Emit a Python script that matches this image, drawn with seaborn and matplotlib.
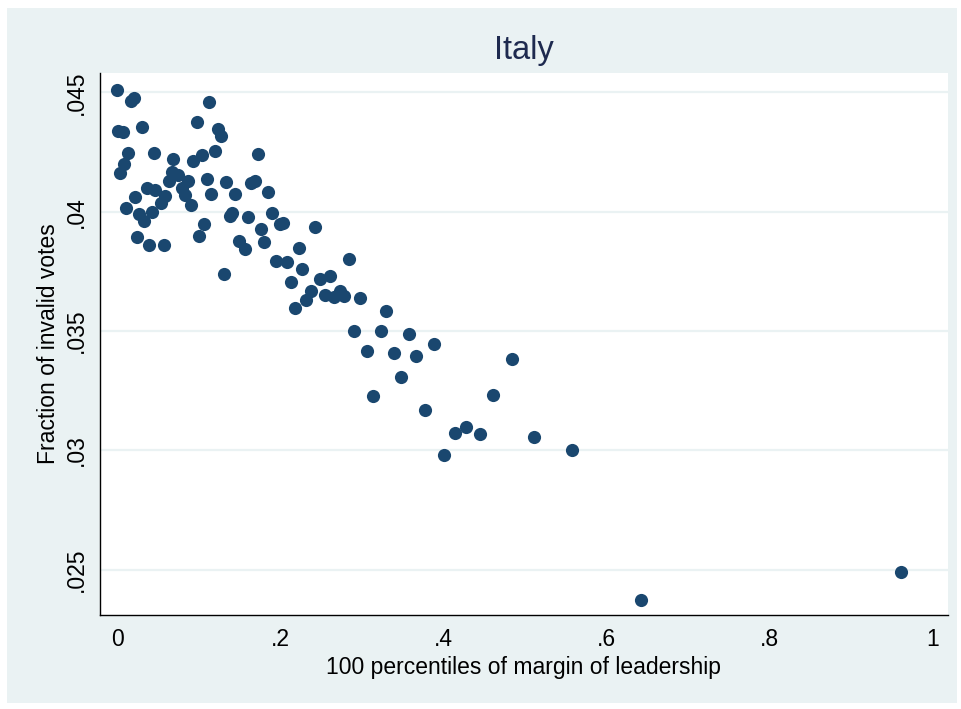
import matplotlib
matplotlib.use("Agg")
import matplotlib.pyplot as plt
from matplotlib.patches import Rectangle
import pandas as pd
import seaborn as sns

# Percentile of margin of leadership (x) and fraction of invalid votes (y)
margin_pct = [
    0.0000, 0.0004, 0.0065, 0.0038, 0.0085, 0.0134, 0.0109, 0.0167, 0.0200, 0.0216,
    0.0244, 0.0269, 0.0298, 0.0330, 0.0359, 0.0384, 0.0430, 0.0455, 0.0467, 0.0529,
    0.0571, 0.0584, 0.0627, 0.0666, 0.0685, 0.0749, 0.0788, 0.0829, 0.0869, 0.0900,
    0.0933, 0.0972, 0.1004, 0.1035, 0.1068, 0.1095, 0.1123, 0.1148, 0.1191, 0.1234,
    0.1270, 0.1307, 0.1335, 0.1375, 0.1405, 0.1446, 0.1491, 0.1559, 0.1601, 0.1638,
    0.1687, 0.1720, 0.1761, 0.1801, 0.1850, 0.1898, 0.1941, 0.1988, 0.2034, 0.2082,
    0.2129, 0.2178, 0.2223, 0.2267, 0.2316, 0.2378, 0.2427, 0.2484, 0.2549, 0.2607,
    0.2660, 0.2726, 0.2782, 0.2844, 0.2905, 0.2981, 0.3057, 0.3138, 0.3229, 0.3297,
    0.3388, 0.3478, 0.3576, 0.3665, 0.3772, 0.3882, 0.4005, 0.4140, 0.4278, 0.4443,
    0.4609, 0.4839, 0.5112, 0.5571, 0.6417, 0.9609,
]
invalid_frac = [
    0.04511, 0.04338, 0.04333, 0.04164, 0.04201, 0.04245, 0.04014, 0.04463, 0.04478, 0.04063,
    0.03895, 0.03989, 0.04354, 0.03961, 0.04101, 0.03862, 0.03999, 0.04244, 0.04092, 0.04036,
    0.03862, 0.04064, 0.04127, 0.04166, 0.04220, 0.04154, 0.04101, 0.04068, 0.04130, 0.04028,
    0.04212, 0.04375, 0.03898, 0.04237, 0.03948, 0.04137, 0.04459, 0.04074, 0.04253, 0.04345,
    0.04317, 0.03738, 0.04125, 0.03982, 0.03995, 0.04074, 0.03876, 0.03845, 0.03977, 0.04122,
    0.04130, 0.04242, 0.03928, 0.03873, 0.04084, 0.03993, 0.03794, 0.03948, 0.03951, 0.03788,
    0.03705, 0.03598, 0.03846, 0.03759, 0.03631, 0.03666, 0.03935, 0.03718, 0.03650, 0.03729,
    0.03644, 0.03668, 0.03647, 0.03800, 0.03500, 0.03637, 0.03416, 0.03228, 0.03500, 0.03585,
    0.03409, 0.03307, 0.03486, 0.03394, 0.03168, 0.03444, 0.02980, 0.03071, 0.03096, 0.03070,
    0.03231, 0.03383, 0.03057, 0.03003, 0.02373, 0.02491,
]

x_ticks = [0, 0.2, 0.4, 0.6, 0.8, 1.0]
x_tick_labels = ["0", ".2", ".4", ".6", ".8", "1"]
y_ticks = [0.025, 0.030, 0.035, 0.040, 0.045]
y_tick_labels = [".025", ".03", ".035", ".04", ".045"]

df = pd.DataFrame({"margin": margin_pct, "invalid": invalid_frac})

sns.set_theme(style="white")
plt.rcParams["font.family"] = ["Liberation Sans", "DejaVu Sans"]

BG = "#EAF2F3"
NAVY = "#1A476F"
W, H = 961, 709

fig = plt.figure(figsize=(W / 100, H / 100), dpi=100)
fig.patch.set_facecolor("white")
fig.add_artist(Rectangle((7 / W, 6 / H), (957 - 7) / W, (702 - 7) / H,
                         transform=fig.transFigure, facecolor=BG,
                         edgecolor="none", zorder=0))

ax = fig.add_axes([100 / W, (H - 615) / H, (948 - 100) / W, (615 - 73) / H])
ax.set_facecolor("white")

sns.scatterplot(data=df, x="margin", y="invalid", color=NAVY, s=90,
                linewidth=0, ax=ax, zorder=3)

ax.set_xlim(-0.0213, 1.0185)
ax.set_ylim(0.023097, 0.045813)
ax.set_xticks(x_ticks)
ax.set_xticklabels(x_tick_labels)
ax.set_yticks(y_ticks)
ax.set_yticklabels(y_tick_labels, rotation=90, va="center")

ax.yaxis.grid(True, color=BG, linewidth=1.6)
ax.xaxis.grid(False)
ax.set_axisbelow(True)

for side in ("top", "right"):
    ax.spines[side].set_visible(False)
for side in ("left", "bottom"):
    ax.spines[side].set_color("black")
    ax.spines[side].set_linewidth(1.0)

ax.tick_params(axis="both", direction="out", length=6, width=1,
               color="black", labelsize=16.5, labelcolor="black")
ax.tick_params(axis="x", pad=3)
ax.tick_params(axis="y", pad=3)

ax.set_xlabel("100 percentiles of margin of leadership", fontsize=16.5,
              color="black", labelpad=4)
ax.set_ylabel("Fraction of invalid votes", fontsize=16.5, color="black",
              labelpad=3)

fig.text(524 / W, 1 - 50 / H, "Italy", ha="center", va="center",
         fontsize=23.5, color="#1E2A4F")

fig.savefig("out.png", dpi=100, facecolor=fig.get_facecolor())
